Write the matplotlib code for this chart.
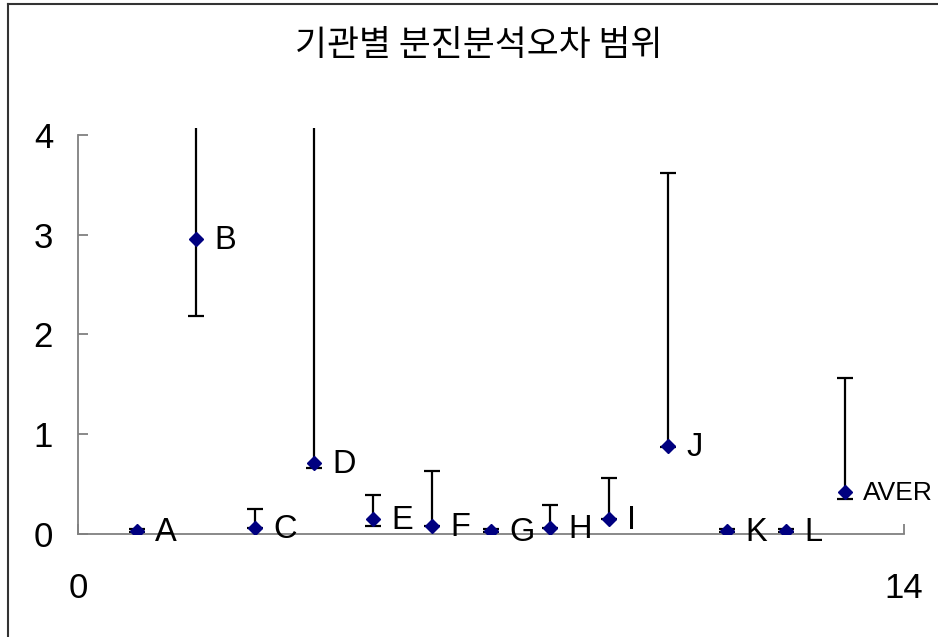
import matplotlib

matplotlib.use("Agg")
import matplotlib.pyplot as plt
from matplotlib.lines import Line2D

# data
labels = ["A", "B", "C", "D", "E", "F", "G", "H", "I", "J", "K", "L", "AVER"]
xpos = [1, 2, 3, 4, 5, 6, 7, 8, 9, 10, 11, 12, 13]
values = [0.03, 2.96, 0.06, 0.71, 0.15, 0.08, 0.03, 0.06, 0.15, 0.88, 0.03, 0.03, 0.42]
lows = [0.02, 2.19, 0.06, 0.66, 0.08, 0.08, 0.02, 0.06, 0.15, 0.87, 0.02, 0.02, 0.35]
highs = [0.05, 4.60, 0.25, 4.60, 0.39, 0.63, 0.05, 0.29, 0.56, 3.62, 0.05, 0.05, 1.56]
title = "기관별 분진분석오차 범위"

plt.rcParams["font.family"] = ["Liberation Sans", "Noto Sans CJK KR", "DejaVu Sans"]

W, H = 938, 637
fig = plt.figure(figsize=(W / 100, H / 100), dpi=100)
ax = fig.add_axes([78 / W, 1 - 534 / H, (904 - 78) / W, (534 - 128) / H])

yerr = [[v - lo for v, lo in zip(values, lows)], [hi - v for v, hi in zip(values, highs)]]
ax.errorbar(xpos, values, yerr=yerr, fmt="none", ecolor="black", elinewidth=1.6,
            capsize=5.8, capthick=1.6, zorder=2)
ax.plot(xpos, values, linestyle="none", marker="D", markersize=7,
        color="#000080", markeredgecolor="#000080", zorder=3)
for x, v, name in zip(xpos, values, labels):
    # the long label at the right edge is squeezed so it stays inside the picture
    size = 23.5 if len(name) == 1 else 19
    ax.annotate(name, (x, v), xytext=(13, -1), textcoords="offset points",
                va="center", ha="left", fontsize=size, color="black",
                annotation_clip=False)

ax.set_xlim(0, 14)
ax.set_ylim(0, 4.07)
ax.set_xticks([0, 14])
ax.set_yticks([0, 1, 2, 3, 4])
ax.spines["left"].set_bounds(0, 4)
for side in ["top", "right"]:
    ax.spines[side].set_visible(False)
for side in ["left", "bottom"]:
    ax.spines[side].set_color("#808080")
    ax.spines[side].set_linewidth(1.3)
ax.tick_params(axis="both", direction="in", length=7, width=1.3, color="#808080",
               labelsize=25)
ax.tick_params(axis="y", pad=18)
ax.tick_params(axis="x", pad=27)
ax.patch.set_alpha(0)

fig.text(479 / W, 1 - 46 / H, title, ha="center", va="center", fontsize=25,
         family=["Noto Sans CJK KR", "DejaVu Sans"])

# chart area border (left and top edges visible)
fig.add_artist(Line2D([8 / W, 8 / W], [0, 1 - 4 / H], color="#333333", linewidth=1.5,
                      transform=fig.transFigure))
fig.add_artist(Line2D([8 / W, 1], [1 - 4 / H, 1 - 4 / H], color="#333333", linewidth=1.5,
                      transform=fig.transFigure))

fig.savefig("out.png", dpi=100, facecolor="white")
